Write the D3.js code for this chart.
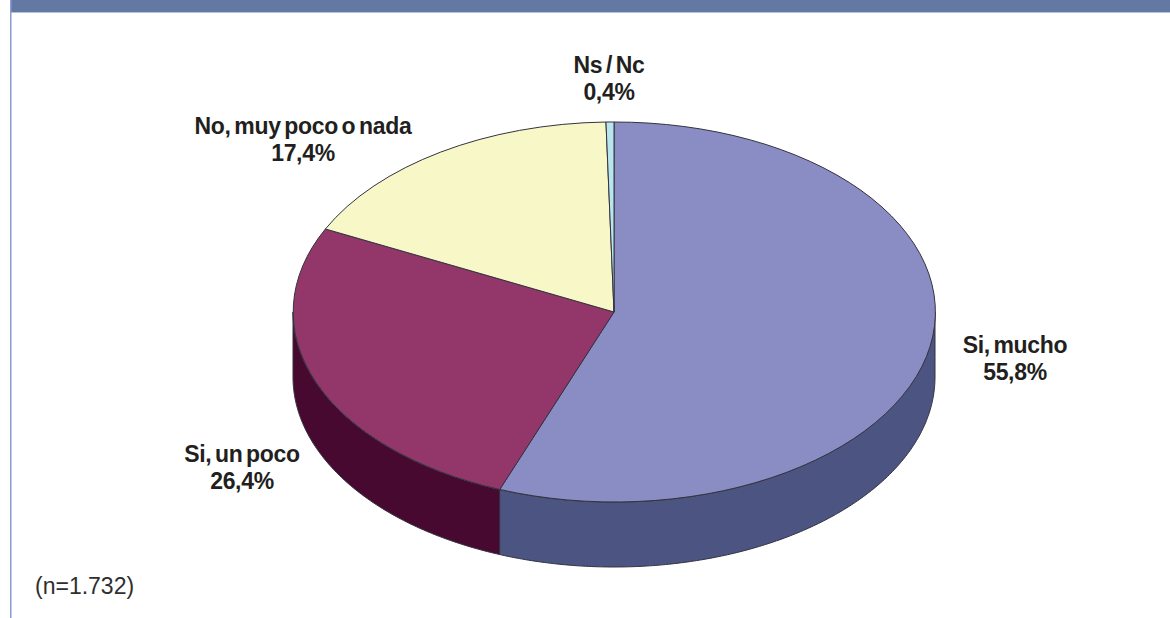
<!DOCTYPE html>
<html>
<head>
<meta charset="utf-8">
<script src="https://cdn.jsdelivr.net/npm/d3@7"></script>
<style>
  html, body { margin: 0; padding: 0; background: #fff; }
  svg { display: block; }
  text { font-family: "Liberation Sans", Arial, sans-serif; }
</style>
</head>
<body>
<svg id="chart" width="1170" height="618"></svg>
<script>
// Survey answers, in clockwise order from twelve o'clock
const categories = ["Si, mucho", "Si, un poco", "No, muy poco o nada", "Ns / Nc"];
const shares = [55.8, 26.4, 17.4, 0.4];
const shareLabels = ["55,8%", "26,4%", "17,4%", "0,4%"];
const topColors = ["#8a8dc4", "#93376b", "#f8f7c7", "#b9e6ee"];
const wallColors = ["#4c5482", "#47092f", "#a9a87f", "#7fa5ad"];
const labelAnchors = [[1015, 353], [242, 462], [303, 134], [609, 73]];
const sampleNote = "(n=1.732)";

const W = 1170, H = 618;
const cx = 614, cy = 312, rx = 321, ry = 190, depth = 65;
const edge = "#33333f";

const svg = d3.select("#chart");

// Page frame: header band and thin left rule
svg.append("rect").attr("x", 10).attr("y", 0).attr("width", W - 10).attr("height", 12).attr("fill", "#6478a4");
svg.append("rect").attr("x", 10).attr("y", 12).attr("width", W - 10).attr("height", 1).attr("fill", "#b4c2e0");
svg.append("rect").attr("x", 10).attr("y", 0).attr("width", 1.5).attr("height", H).attr("fill", "#8a9cc8");

const slices = d3.pie().sort(null).value(d => d)(shares);

// Maps a pie angle (0 = top, clockwise) onto the tilted disc
const px = d3.scaleLinear().domain([-1, 1]).range([cx - rx, cx + rx]);
const py = d3.scaleLinear().domain([-1, 1]).range([cy - ry, cy + ry]);
const rimX = a => px(Math.sin(a));
const rimY = a => py(-Math.cos(a));

// Outer wall: only the front half of the rim (right to left through the bottom) is visible
const wall = d3.area().x(a => rimX(a)).y0(a => rimY(a)).y1(a => rimY(a) + depth);
const walls = svg.append("g");
slices.forEach((s, i) => {
  const from = Math.max(s.startAngle, Math.PI / 2);
  const to = Math.min(s.endAngle, Math.PI * 1.5);
  if (to <= from) return;
  const steps = d3.range(from, to, 0.01).concat([to]);
  walls.append("path")
    .attr("d", wall(steps))
    .attr("fill", wallColors[i])
    .attr("stroke", edge)
    .attr("stroke-width", 1)
    .attr("stroke-linejoin", "round");
});

// Top face of the disc: unit-radius arcs squeezed to the ellipse
const arc = d3.arc().innerRadius(0).outerRadius(1);
svg.append("g")
  .attr("transform", `translate(${cx},${cy}) scale(${rx},${ry})`)
  .selectAll("path")
  .data(slices)
  .join("path")
  .attr("d", arc)
  .attr("fill", (d, i) => topColors[i])
  .attr("stroke", edge)
  .attr("stroke-width", 1)
  .attr("stroke-linejoin", "round")
  .attr("vector-effect", "non-scaling-stroke");

// Two-line slice labels, set tight with narrow word gaps
const labels = svg.append("g")
  .attr("text-anchor", "middle")
  .attr("fill", "#231f20")
  .attr("font-size", 23)
  .attr("font-weight", "bold")
  .attr("letter-spacing", -0.3)
  .attr("word-spacing", -2.5);
categories.forEach((c, i) => {
  const [x, y] = labelAnchors[i];
  labels.append("text").attr("x", x).attr("y", y).text(c);
  labels.append("text").attr("x", x).attr("y", y + 27).text(shareLabels[i]);
});

svg.append("text")
  .attr("x", 35).attr("y", 594)
  .attr("font-size", 23)
  .attr("fill", "#2e2e2e")
  .text(sampleNote);
</script>
</body>
</html>
